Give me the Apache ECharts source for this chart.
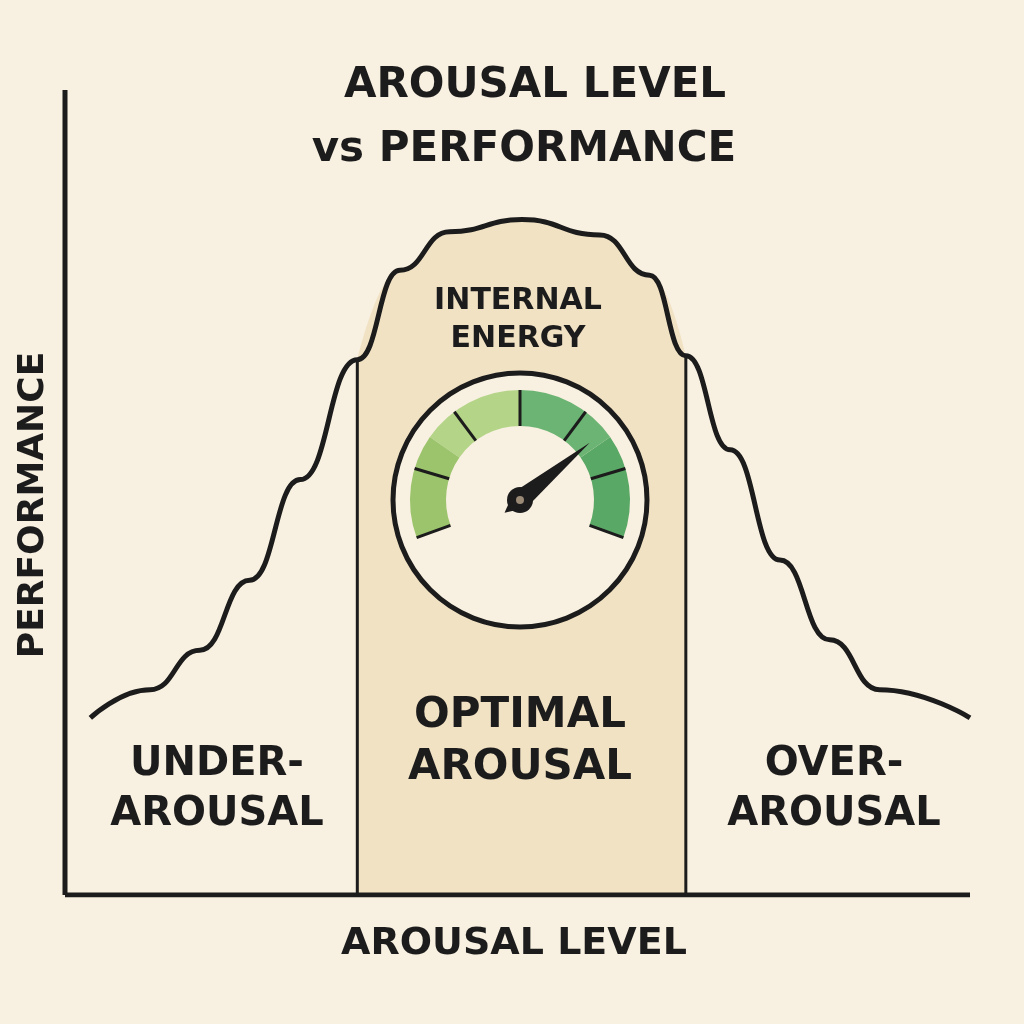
<!DOCTYPE html><html><head><meta charset="utf-8">
<script src="https://cdn.jsdelivr.net/npm/echarts@6/dist/echarts.min.js"></script>
<style>html,body{margin:0;background:#f8f0e0}#c{width:1024px;height:1024px}</style></head><body><div id="c"></div>
<script>
const curveX=[2.8,9.4,14.9,20.4,26,32.3,37,42.5,50.5,59.1,64.6,68.6,73.5,79,84.5,90,100];
const curveY=[22,25.5,30.4,39.1,51.6,66.5,77.6,82.4,83.9,82,77,67,55.3,41.6,31.7,25.5,22];
const zoneX=[32.3,68.6];
const gaugeValue=73;
const titleLines=['AROUSAL LEVEL','vs PERFORMANCE'];
const zoneLabels=['UNDER-\nAROUSAL','OPTIMAL\nAROUSAL','OVER-\nAROUSAL'];
const curve=curveX.map((x,i)=>[x,curveY[i]]);
const shade=curve.filter(p=>p[0]>=zoneX[0]&&p[0]<=zoneX[1]);
const F='"DejaVu Sans", sans-serif', K='#1c1c1c';
const chart=echarts.init(document.getElementById('c'));
const txt=(x,y,t,s)=>({type:'text',x:x,y:y,z:100,style:{text:t,font:'bold '+s+'px '+F,fill:K,textAlign:'center',textVerticalAlign:'middle',lineHeight:s*1.25}});
chart.setOption({backgroundColor:'#f8f0e0',animation:false,
grid:{left:65,right:54,top:90,bottom:129},
xAxis:{type:'value',min:0,max:100,axisLine:{show:false},axisTick:{show:false},axisLabel:{show:false},splitLine:{show:false}},
yAxis:{type:'value',min:0,max:100,axisLine:{show:false},axisTick:{show:false},axisLabel:{show:false},splitLine:{show:false}},
series:[
{type:'line',data:shade,smooth:0.5,smoothMonotone:'x',symbol:'none',lineStyle:{width:0},areaStyle:{color:'#f2e2c4',opacity:1},z:1},
{type:'line',data:curve,smooth:0.5,smoothMonotone:'x',symbol:'none',lineStyle:{color:K,width:5},z:3},
{type:'line',data:[[zoneX[0],0],[zoneX[0],66.5]],symbol:'none',lineStyle:{color:K,width:3},z:3},
{type:'line',data:[[zoneX[1],0],[zoneX[1],67]],symbol:'none',lineStyle:{color:K,width:3},z:3},
{type:'line',data:[[0,0],[0,100]],symbol:'none',lineStyle:{color:K,width:5},z:4},
{type:'line',data:[[0,0],[100,0]],symbol:'none',lineStyle:{color:K,width:5},z:4},
{type:'gauge',center:[520,500],radius:110,startAngle:200,endAngle:-20,min:0,max:100,z:6,
 axisLine:{lineStyle:{width:36,color:[[0.25,'#9cc46c'],[0.5,'#b4d488'],[0.75,'#6cb474'],[1,'#5aa866']]}},
 splitNumber:6,splitLine:{distance:-36,length:36,lineStyle:{color:K,width:3}},
 axisTick:{show:false},axisLabel:{show:false},
 pointer:{width:10,length:'82%',offsetCenter:[0,0],itemStyle:{color:K}},
 anchor:{show:true,size:26,itemStyle:{color:K}},
 detail:{show:false},title:{show:false},data:[{value:gaugeValue}]}
],
graphic:[
{type:'circle',shape:{cx:520,cy:500,r:127},style:{fill:'#f8f0e0',stroke:K,lineWidth:5},z:5},
{type:'circle',shape:{cx:520,cy:500,r:4},style:{fill:'#9a8a76'},z:100},
txt(535,86,titleLines[0],42),txt(524,150,titleLines[1],42),
txt(518,320,'INTERNAL\nENERGY',30),
txt(520,742,zoneLabels[1],42),txt(217,790,zoneLabels[0],40),txt(834,790,zoneLabels[2],40),
txt(514,944,'AROUSAL LEVEL',38),
{type:'text',x:34,y:505,rotation:Math.PI/2,z:100,style:{text:'PERFORMANCE',font:'bold 36px '+F,fill:K,textAlign:'center',textVerticalAlign:'middle'}}
]});
</script></body></html>
